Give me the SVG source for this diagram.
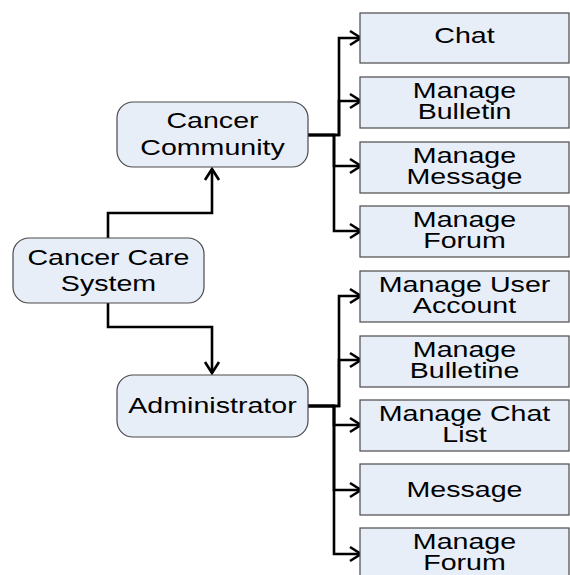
<svg xmlns="http://www.w3.org/2000/svg" width="570" height="575" viewBox="0 0 570 575">
<defs>
<style>
.node{fill:#E8EEF8;stroke:#4a4a4a;stroke-width:1.2}
.lbl{font-family:"Liberation Sans",Arial,sans-serif;font-size:22px;fill:#000;text-anchor:middle}
.conn{fill:none;stroke:#000;stroke-width:2.6;stroke-linejoin:miter}
</style>
<marker id="arr" markerUnits="userSpaceOnUse" viewBox="-14 -9 16 18" refX="0" refY="0" markerWidth="16" markerHeight="18" orient="auto" overflow="visible">
<path d="M-11,-7 L0,0 L-11,7" fill="none" stroke="#000" stroke-width="2.6"/>
</marker>
</defs>
<rect width="570" height="575" fill="#fff"/>
<g id="connectors">
<path class="conn" d="M108,238 V213 H212 V169" marker-end="url(#arr)"/>
<path class="conn" d="M108,303 V327 H212 V373" marker-end="url(#arr)"/>
<path class="conn" d="M308,135 H339 V38 H361" marker-end="url(#arr)"/>
<path class="conn" d="M308,135 H339 V101 H361" marker-end="url(#arr)"/>
<path class="conn" d="M308,135 H334 V166 H361" marker-end="url(#arr)"/>
<path class="conn" d="M308,135 H334 V231 H361" marker-end="url(#arr)"/>
<path class="conn" d="M308,406 H339 V296 H361" marker-end="url(#arr)"/>
<path class="conn" d="M308,406 H339 V360 H361" marker-end="url(#arr)"/>
<path class="conn" d="M308,406 H334 V425 H361" marker-end="url(#arr)"/>
<path class="conn" d="M308,406 H334 V490 H361" marker-end="url(#arr)"/>
<path class="conn" d="M308,406 H334 V554 H361" marker-end="url(#arr)"/>
</g>
<g id="cancer-care-system">
<rect class="node" x="13" y="238" width="191" height="65" rx="16"/>
<text class="lbl" transform="translate(108.5,265) scale(1.3,1)">Cancer Care</text>
<text class="lbl" transform="translate(108.5,291) scale(1.3,1)">System</text>
</g>
<g id="cancer-community">
<rect class="node" x="117" y="102" width="191" height="65" rx="16"/>
<text class="lbl" transform="translate(212.5,128) scale(1.3,1)">Cancer</text>
<text class="lbl" transform="translate(212.5,155) scale(1.3,1)">Community</text>
</g>
<g id="administrator">
<rect class="node" x="117" y="375" width="191" height="62" rx="16"/>
<text class="lbl" transform="translate(212.5,413) scale(1.3,1)">Administrator</text>
</g>
<g id="chat">
<rect class="node" x="360" y="13" width="209" height="50"/>
<text class="lbl" transform="translate(464.5,43) scale(1.3,1)">Chat</text>
</g>
<g id="manage-bulletin">
<rect class="node" x="360" y="77" width="209" height="51"/>
<text class="lbl" transform="translate(464.5,98) scale(1.3,1)">Manage</text>
<text class="lbl" transform="translate(464.5,119) scale(1.3,1)">Bulletin</text>
</g>
<g id="manage-message">
<rect class="node" x="360" y="142" width="209" height="51"/>
<text class="lbl" transform="translate(464.5,163) scale(1.3,1)">Manage</text>
<text class="lbl" transform="translate(464.5,184) scale(1.3,1)">Message</text>
</g>
<g id="manage-forum">
<rect class="node" x="360" y="206" width="209" height="51"/>
<text class="lbl" transform="translate(464.5,227) scale(1.3,1)">Manage</text>
<text class="lbl" transform="translate(464.5,248) scale(1.3,1)">Forum</text>
</g>
<g id="manage-user-account">
<rect class="node" x="360" y="271" width="209" height="51"/>
<text class="lbl" transform="translate(464.5,292) scale(1.3,1)">Manage User</text>
<text class="lbl" transform="translate(464.5,313) scale(1.3,1)">Account</text>
</g>
<g id="manage-bulletine">
<rect class="node" x="360" y="336" width="209" height="51"/>
<text class="lbl" transform="translate(464.5,357) scale(1.3,1)">Manage</text>
<text class="lbl" transform="translate(464.5,378) scale(1.3,1)">Bulletine</text>
</g>
<g id="manage-chat-list">
<rect class="node" x="360" y="400" width="209" height="51"/>
<text class="lbl" transform="translate(464.5,421) scale(1.3,1)">Manage Chat</text>
<text class="lbl" transform="translate(464.5,442) scale(1.3,1)">List</text>
</g>
<g id="message">
<rect class="node" x="360" y="464" width="209" height="51"/>
<text class="lbl" transform="translate(464.5,497) scale(1.3,1)">Message</text>
</g>
<g id="manage-forum-admin">
<rect class="node" x="360" y="528" width="209" height="60"/>
<text class="lbl" transform="translate(464.5,549) scale(1.3,1)">Manage</text>
<text class="lbl" transform="translate(464.5,570) scale(1.3,1)">Forum</text>
</g>
</svg>
